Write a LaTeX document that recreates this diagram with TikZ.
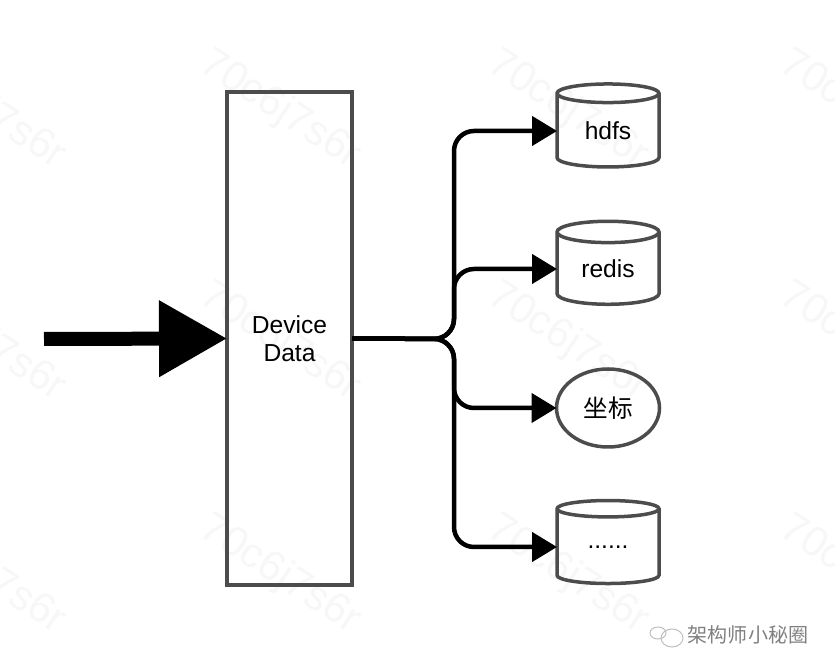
\documentclass[tikz,border=0pt]{standalone}
\usepackage{fontspec}
\setmainfont{Liberation Sans}
\newfontfamily\cjk{Noto Sans CJK SC}
\usetikzlibrary{arrows.meta,shapes.geometric}
\tikzset{
	label text/.style={font=\fontsize{7}{8}\selectfont},
	box/.style={draw=black!70,line width=.035cm,outer sep=0pt,inner sep=0pt},
	store/.style={box,label text,cylinder,shape border rotate=90,aspect=.4,minimum width=1.02cm,minimum height=.83cm},
	flow/.style={-{Triangle[length=.25cm,width=.29cm]},line width=.045cm,rounded corners=.2cm},
	mark text/.style={font=\fontsize{12}{12}\selectfont,text=black!3,rotate=-33},
}
\begin{document}
\begin{tikzpicture}[auto]
	\useasboundingbox (0,0) rectangle (8.35,-6.71);
	\foreach \x in {-.15,2.8,5.68,8.6}
		\foreach \y in {-1.1,-3.42,-5.75}
			\node[mark text] at (\x,\y) {70c6j7s6r};
	\node[box,label text,align=center,minimum width=1.25cm,minimum height=4.93cm] (device) at (2.895,-3.385) {Device\\Data};
	\node[store] (hdfs) at (6.08,-1.31) {hdfs};
	\node[store] (redis) at (6.08,-2.69) {redis};
	\node[box,label text,ellipse,minimum width=1.03cm,minimum height=.78cm] (coord) at (6.08,-4.08) {\cjk 坐标};
	\node[store] (more) at (6.08,-5.47) {......};
	\coordinate (start) at (.44,-3.39);
	\coordinate (bus) at (4.54,-3.39);
	\draw[-{Triangle[length=.68cm,width=.73cm]},line width=.14cm] (start) to (device.west);
	\draw[flow] (device.east) -- (bus) -- (bus |- hdfs.west) -- (hdfs.west);
	\draw[flow] (device.east) -- (bus) -- (bus |- redis.west) -- (redis.west);
	\draw[flow] (device.east) -- (bus) -- (bus |- coord.west) -- (coord.west);
	\draw[flow] (device.east) -- (bus) -- (bus |- more.west) -- (more.west);
	\node[font=\cjk\fontsize{5.7}{6}\selectfont,text=black!50] (logo) at (7.48,-6.35) {架构师小秘圈};
	\draw[black!25,line width=.01cm] (6.72,-6.38) ellipse (.11cm and .09cm);
	\draw[black!25,line width=.01cm] (6.58,-6.33) ellipse (.08cm and .06cm);
\end{tikzpicture}
\end{document}
